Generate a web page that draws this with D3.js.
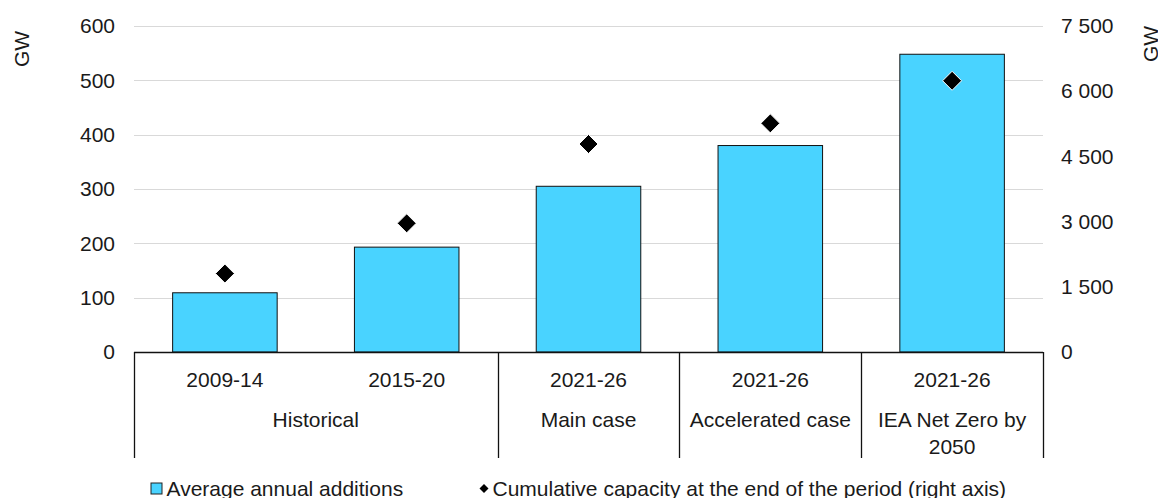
<!DOCTYPE html>
<html>
<head>
<meta charset="utf-8">
<script src="https://cdn.jsdelivr.net/npm/d3@7"></script>
<style>
  html, body { margin: 0; padding: 0; background: #fff; }
  svg { display: block; font-family: "Liberation Sans", Arial, sans-serif; }
</style>
</head>
<body>
<svg id="chart" width="1158" height="498"></svg>
<script>
// ---- data ----
const periods = ["2009-14", "2015-20", "2021-26", "2021-26", "2021-26"];
const groups = ["Historical", "Main case", "Accelerated case", "IEA Net Zero by|2050"];
const groupSpans = [2, 1, 1, 1];
const additions = [109, 193, 305, 380, 548];          // GW, left axis
const cumulative = [1805, 2960, 4785, 5260, 6240];    // GW, right axis
const leftTicks = [0, 100, 200, 300, 400, 500, 600];
const rightTicks = [0, 1500, 3000, 4500, 6000, 7500];
const legendLabels = ["Average annual additions", "Cumulative capacity at the end of the period (right axis)"];
const unitLabel = "GW";

// ---- layout ----
const svg = d3.select("#chart");
const plotLeft = 134, plotRight = 1043, plotTop = 26, plotBottom = 352;
const textColor = "#1a1a1a";
const barColor = "#49D3FF";
const fontSize = 21;

const idx = periods.map((d, i) => i);
const x = d3.scaleBand().domain(idx).range([plotLeft, plotRight]).paddingInner(0.425).paddingOuter(0.2125);
const yL = d3.scaleLinear().domain([0, 600]).range([plotBottom, plotTop]);
const yR = d3.scaleLinear().domain([0, 7500]).range([plotBottom, plotTop]);

// gridlines
svg.append("g").selectAll("line").data(leftTicks.filter(d => d > 0)).join("line")
  .attr("x1", plotLeft).attr("x2", plotRight)
  .attr("y1", d => Math.round(yL(d)) + 0.5).attr("y2", d => Math.round(yL(d)) + 0.5)
  .attr("stroke", "#d9d9d9").attr("stroke-width", 1.2);

// left axis
const axL = svg.append("g").attr("transform", `translate(${plotLeft},0)`)
  .call(d3.axisLeft(yL).tickValues(leftTicks).tickSize(0).tickPadding(19).tickFormat(d3.format("d")));
axL.select(".domain").remove();
axL.selectAll("text").attr("font-size", fontSize).attr("fill", textColor).attr("font-family", "Liberation Sans, Arial, sans-serif");

// right axis
const fmtSpace = d => d3.format(",")(d).replace(/,/g, "\u00a0");
const axR = svg.append("g").attr("transform", `translate(${plotRight},0)`)
  .call(d3.axisRight(yR).tickValues(rightTicks).tickSize(0).tickPadding(18).tickFormat(fmtSpace));
axR.select(".domain").remove();
axR.selectAll("text").attr("font-size", fontSize).attr("fill", textColor).attr("font-family", "Liberation Sans, Arial, sans-serif");

// unit labels
svg.append("text").attr("transform", "translate(29,49) rotate(-90)")
  .attr("text-anchor", "middle").attr("font-size", fontSize).attr("fill", textColor).text(unitLabel);
svg.append("text").attr("transform", "translate(1158,44) rotate(-90)")
  .attr("text-anchor", "middle").attr("font-size", fontSize).attr("fill", textColor).text(unitLabel);

// bars
svg.append("g").selectAll("rect").data(additions).join("rect")
  .attr("x", (d, i) => x(i)).attr("width", x.bandwidth())
  .attr("y", d => yL(d)).attr("height", d => yL(0) - yL(d))
  .attr("fill", barColor).attr("stroke", "#111").attr("stroke-width", 1);

// diamonds
const dsz = 9.5;
svg.append("g").selectAll("path").data(cumulative).join("path")
  .attr("transform", (d, i) => `translate(${x(i) + x.bandwidth() / 2},${yR(d)})`)
  .attr("d", `M0,${-dsz}L${dsz},0L0,${dsz}L${-dsz},0Z`)
  .attr("fill", "#000").attr("stroke", "#fff").attr("stroke-width", 1);

// category axis baseline
svg.append("line").attr("x1", plotLeft).attr("x2", plotRight).attr("y1", plotBottom + 0.5).attr("y2", plotBottom + 0.5)
  .attr("stroke", "#111").attr("stroke-width", 1.3);

// period labels
svg.append("g").selectAll("text").data(periods).join("text")
  .attr("x", (d, i) => x(i) + x.bandwidth() / 2).attr("y", 380).attr("dy", "0.35em")
  .attr("text-anchor", "middle").attr("font-size", fontSize).attr("fill", textColor).text(d => d);

// group separators and labels
const step = x.step();
let cum = 0;
const bounds = [plotLeft];
groupSpans.forEach(s => { cum += s; bounds.push(plotLeft + cum * step); });
svg.append("g").selectAll("line").data(bounds).join("line")
  .attr("x1", d => Math.round(d) + 0.5).attr("x2", d => Math.round(d) + 0.5)
  .attr("y1", plotBottom).attr("y2", 458)
  .attr("stroke", "#111").attr("stroke-width", 1.3);

const gl = svg.append("g");
groups.forEach((g, i) => {
  const cx = (bounds[i] + bounds[i + 1]) / 2;
  const lines = g.split("|");
  const t = gl.append("text").attr("text-anchor", "middle").attr("font-size", fontSize).attr("fill", textColor);
  lines.forEach((ln, j) => {
    t.append("tspan").attr("x", cx).attr("y", 420 + j * 26.7).attr("dy", "0.35em").text(ln);
  });
});

// legend
const lg = svg.append("g");
lg.append("rect").attr("x", 151).attr("y", 483).attr("width", 11).attr("height", 11)
  .attr("fill", barColor).attr("stroke", "#222").attr("stroke-width", 1);
lg.append("text").attr("x", 166.5).attr("y", 488.5).attr("dy", "0.35em")
  .attr("font-size", fontSize).attr("fill", textColor).text(legendLabels[0]);
lg.append("path").attr("transform", "translate(484,488.5)")
  .attr("d", "M0,-4.5L4.5,0L0,4.5L-4.5,0Z").attr("fill", "#000");
lg.append("text").attr("x", 492.5).attr("y", 488.5).attr("dy", "0.35em")
  .attr("font-size", fontSize).attr("fill", textColor).text(legendLabels[1]);
</script>
</body>
</html>
